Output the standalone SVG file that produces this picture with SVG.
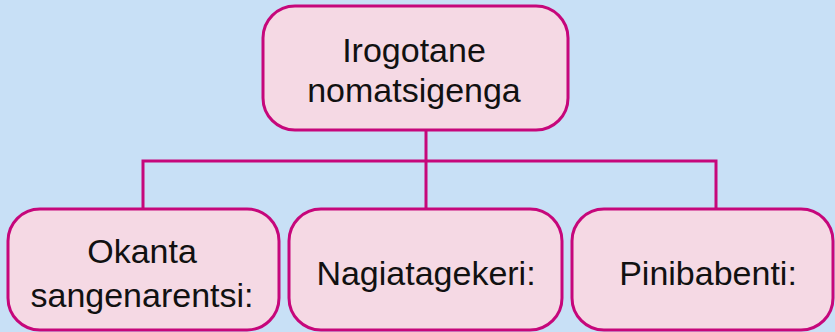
<svg xmlns="http://www.w3.org/2000/svg" width="835" height="332" viewBox="0 0 835 332">
<style>
.box{fill:#f5d9e4;stroke:#c6077b;stroke-width:3}
.conn{fill:none;stroke:#c6077b;stroke-width:3}
text{font-family:"Liberation Sans","Open Sans",sans-serif;font-size:34px;fill:#111;text-anchor:middle}
</style>
<rect x="0" y="0" width="835" height="332" fill="#c8e0f6"/>
<g id="connectors">
<path class="conn" d="M426 130 V208 M143 208 V161 H716 V208"/>
</g>
<g id="root">
<rect class="box" x="263" y="6" width="305" height="124" rx="32"/>
<text x="414" y="62">Irogotane</text>
<text x="414" y="102">nomatsigenga</text>
</g>
<g id="n1">
<rect class="box" x="8" y="209" width="271" height="121" rx="32"/>
<text x="142" y="263">Okanta</text>
<text x="142" y="307">sangenarentsi:</text>
</g>
<g id="n2">
<rect class="box" x="289" y="209" width="273" height="121" rx="32"/>
<text x="426" y="285">Nagiatagekeri:</text>
</g>
<g id="n3">
<rect class="box" x="572" y="209" width="261" height="121" rx="32"/>
<text x="708" y="285">Pinibabenti:</text>
</g>
</svg>
